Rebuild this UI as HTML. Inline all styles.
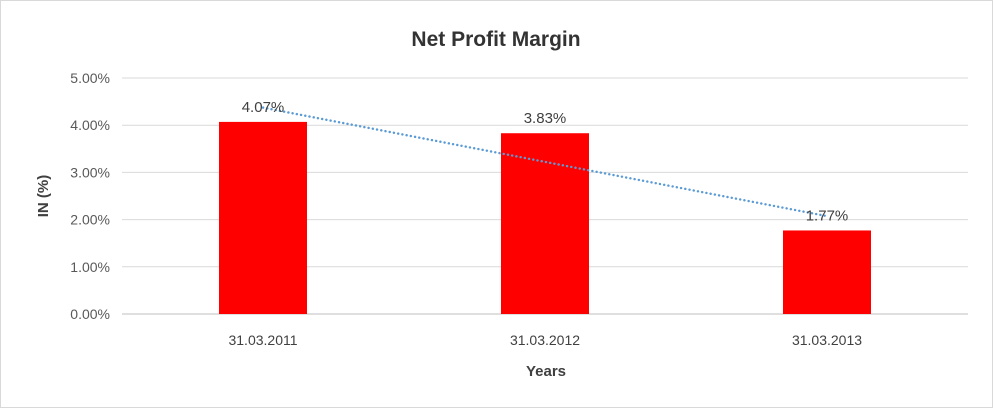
<!DOCTYPE html>
<html><head><meta charset="utf-8"><style>
html,body{margin:0;padding:0;background:#fff;}
svg{display:block;font-family:"Liberation Sans",sans-serif;}
</style></head><body>
<svg width="993" height="408">
<rect x="0.5" y="0.5" width="992" height="407" fill="#fff" stroke="#d9d9d9"/>
<text x="496" y="46" text-anchor="middle" font-size="21" font-weight="bold" fill="#333">Net Profit Margin</text>
<g id="grid"></g><g id="bars"></g><g id="labels"></g>
<text transform="translate(48,196) rotate(-90)" text-anchor="middle" font-size="15" font-weight="bold" fill="#404040">IN (%)</text>
<text x="546" y="376" text-anchor="middle" font-size="15" font-weight="bold" fill="#404040">Years</text>
</svg>
<script>
const categories=["31.03.2011","31.03.2012","31.03.2013"];
const values=[4.07,3.83,1.77];
const ticks=[0,1,2,3,4,5];
const NS="http://www.w3.org/2000/svg";
const x0=122,x1=968,yBase=314,yTop=78,yMax=5;
const y=v=>yBase-(v/yMax)*(yBase-yTop);
const band=(x1-x0)/categories.length;
const cx=i=>x0+band*(i+0.5);
function mk(t,a,p,txt){const e=document.createElementNS(NS,t);for(const k in a)e.setAttribute(k,a[k]);if(txt!==undefined)e.textContent=txt;p.appendChild(e);return e;}
const g=document.getElementById('grid'),b=document.getElementById('bars'),l=document.getElementById('labels');
ticks.forEach(t=>{
 const ln=mk('line',{x1:x0,x2:x1,y1:y(t),y2:y(t),stroke:t===0?'#bfbfbf':'#d9d9d9'},g);
 
 
 const tx=mk('text',{x:x0-12,y:y(t)+5,'text-anchor':'end','font-size':14,fill:'#595959'},g,t.toFixed(2)+'%');
 
 
});
categories.forEach((c,i)=>{
 const r=mk('rect',{x:cx(i)-44,y:y(values[i]),width:88,height:yBase-y(values[i]),fill:'#ff0000'},b);
 
 
 const ct=mk('text',{x:cx(i),y:yBase+31,'text-anchor':'middle','font-size':14,fill:'#404040'},l,c);
 
 
});
const n=values.length,mx=(n-1)/2,my=values.reduce((a,b)=>a+b,0)/n;
let sxy=0,sxx=0;values.forEach((v,i)=>{sxy+=(i-mx)*(v-my);sxx+=(i-mx)*(i-mx);});
const slope=sxy/sxx,icpt=my-slope*mx;
const tl=mk('line',{x1:cx(0),y1:y(icpt),x2:cx(n-1),y2:y(icpt+slope*(n-1)),stroke:'#5b9bd5','stroke-width':2.4,'stroke-dasharray':'0.1 4.2','stroke-linecap':'round'},l);


values.forEach((v,i)=>{
 const t=mk('text',{x:cx(i),y:y(v)-10,'text-anchor':'middle','font-size':15,fill:'#404040'},l,v.toFixed(2)+'%');
 
 
});
</script>
</body></html>
